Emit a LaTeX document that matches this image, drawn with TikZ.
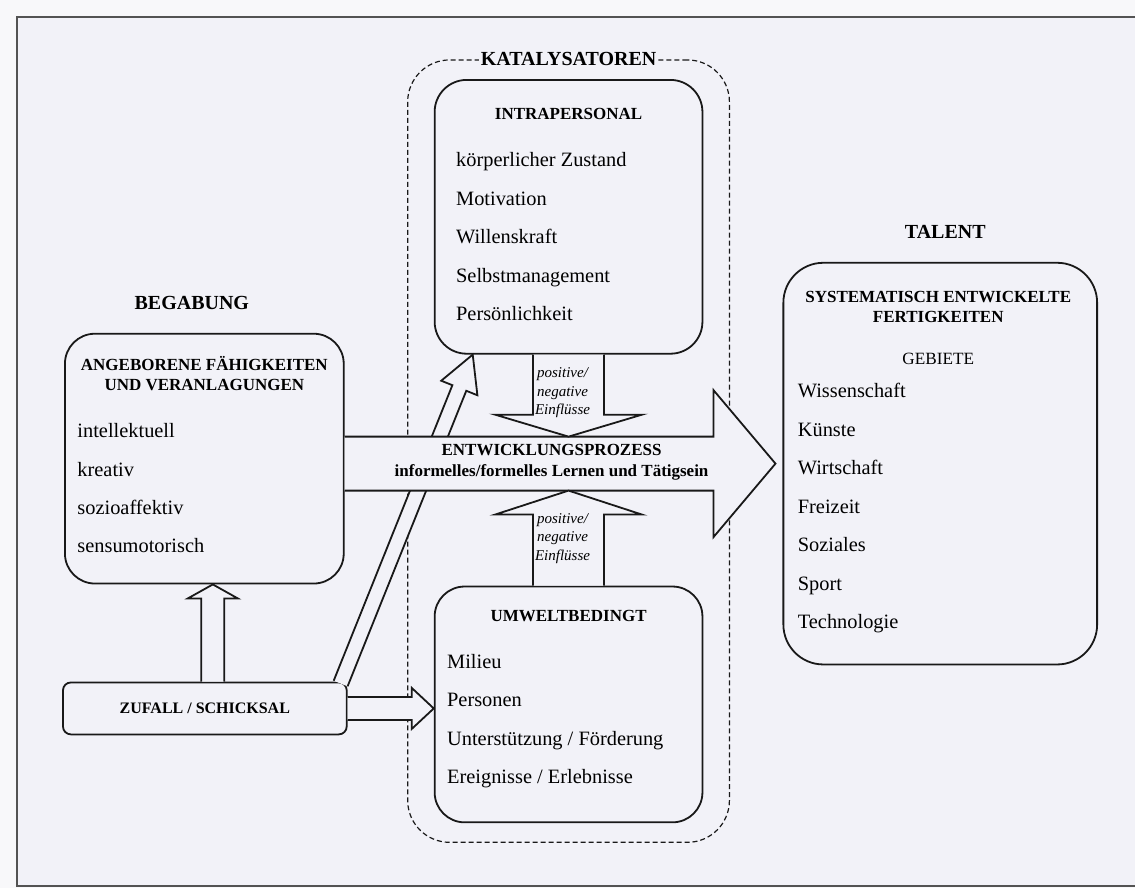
\documentclass[tikz,border=0pt]{standalone}
\usepackage{fontspec}
\setmainfont{Liberation Serif}
\usetikzlibrary{calc,positioning}
\definecolor{pagebg}{RGB}{248,248,250}
\definecolor{sheet}{RGB}{242,242,248}
\definecolor{ink}{RGB}{25,25,25}
% block arrow: tail, tip, half shaft, half head, head length
\newcommand{\barrow}[5]{%
  \coordinate (hb) at ($(#2)!#5!(#1)$);
  \draw[flow] ($(#1)!#3!90:(#2)$) -- ($(hb)!#3!90:(#2)$) -- ($(hb)!#4!90:(#2)$) -- (#2)
    -- ($(hb)!#4!-90:(#2)$) -- ($(hb)!#3!-90:(#2)$) -- ($(#1)!#3!-90:(#2)$);}

\begin{document}
\begin{tikzpicture}[x=0.5pt, y=0.5pt,
  box/.style={draw=ink, line width=0.9pt, fill=sheet, rounded corners=16pt},
  flow/.style={draw=ink, line width=0.9pt, fill=sheet, line join=miter},
  title/.style={font=\fontsize{10}{12}\selectfont\bfseries, inner sep=1pt},
  head/.style={font=\fontsize{8.5}{10}\selectfont\bfseries, align=center, inner sep=0pt},
  item/.style={font=\fontsize{10.2}{12}\selectfont, anchor=base west, inner sep=0pt},
  influence/.style={font=\fontsize{7.5}{9.25}\selectfont\itshape, align=center, inner sep=0pt}]
  % page
  \fill[pagebg] (0,0) rectangle (1136,889);
  \fill[sheet] (17,2) rectangle (1136,872);
  \draw[ink!75, line width=0.9pt] (1136,872) -- (17,872) -- (17,2) -- (1136,2);
  \useasboundingbox (0,0) rectangle (1136,889);

  % catalysts
  \node[draw=ink, dash pattern=on 2.5pt off 1.5pt, line width=0.6pt, rounded corners=21pt,
    minimum width=161pt, minimum height=391.5pt] (kat) at (569,437.5) {};
  \node[title, fill=sheet] (kat-t) at (kat.north) {KATALYSATOREN};

  % boxes
  \node[box, minimum width=134pt, minimum height=137pt] (intra) at (569,672) {};
  \node[box, rounded corners=15pt, minimum width=134pt, minimum height=118pt] (umwelt) at (569,184) {};
  \node[box, rounded corners=15pt, minimum width=139.5pt, minimum height=125pt] (begabung) at (204.5,430) {};
  \node[box, rounded corners=20pt, minimum width=157pt, minimum height=201pt] (talent) at (941,425) {};
  \node[box, rounded corners=4pt, minimum width=142pt, minimum height=26pt,
    font=\fontsize{8}{10}\selectfont\bfseries] (zufall) at (205,180) {ZUFALL / SCHICKSAL};

  \node[title] (begabung-t) at (192,586) {BEGABUNG};
  \node[title] (talent-t) at (946,657) {TALENT};

  % arrows
  \coordinate (diag-s) at ($(zufall.north east)+(-7,-2)$);
  \coordinate (diag-e) at ($(intra.south west)+(39,0)$);
  \barrow{diag-s}{diag-e}{3.75pt}{9.75pt}{18pt}
  \coordinate (main-s) at (begabung.east |- talent.west);
  \coordinate (main-e) at ($(talent.west)+(-7,0)$);
  \barrow{main-s}{main-e}{13.5pt}{36.75pt}{31pt}
  \coordinate (inf-o) at ($(intra.south |- talent.west)+(0,27)$);
  \barrow{intra.south}{inf-o}{17.75pt}{36.75pt}{11pt}
  \coordinate (inf-u) at ($(umwelt.north |- talent.west)+(0,-27)$);
  \barrow{umwelt.north}{inf-u}{17.75pt}{36.75pt}{12pt}
  \coordinate (zu-s) at ($(zufall.north)+(8,0)$);
  \coordinate (zu-e) at (zu-s |- begabung.south);
  \barrow{zu-s}{zu-e}{5.75pt}{12.5pt}{7pt}
  \coordinate (zr-e) at (umwelt.west |- zufall.east);
  \barrow{zufall.east}{zr-e}{5.75pt}{10.25pt}{11pt}

  % texts
  \node[head] (intra-h) at ($(intra.north)+(0,-35)$) {INTRAPERSONAL};
  \foreach \lbl [count=\i from 0] in {körperlicher Zustand, Motivation, Willenskraft, Selbstmanagement, Persönlichkeit}
    \node[item] (intra-\i) at ($(intra.north west)+(22,-88-38.5*\i)$) {\lbl};
  \node[head] (umwelt-h) at ($(umwelt.north)+(0,-30)$) {UMWELTBEDINGT};
  \foreach \lbl [count=\i from 0] in {Milieu, Personen, Unterstützung / Förderung, Ereignisse / Erlebnisse}
    \node[item] (umwelt-\i) at ($(umwelt.north west)+(13,-83-38.3*\i)$) {\lbl};
  \node[head] (begabung-h) at ($(begabung.north)+(0,-41)$) {ANGEBORENE FÄHIGKEITEN\\UND VERANLAGUNGEN};
  \foreach \lbl [count=\i from 0] in {intellektuell, kreativ, sozioaffektiv, sensumotorisch}
    \node[item] (begabung-\i) at ($(begabung.north west)+(13,-105-38.3*\i)$) {\lbl};
  \node[head] (talent-h) at ($(talent.north)+(-2,-45)$) {SYSTEMATISCH ENTWICKELTE\\FERTIGKEITEN};
  \node[font=\fontsize{8.6}{10}\selectfont, inner sep=0pt] (gebiete) at ($(talent.north)+(-2,-97)$) {GEBIETE};
  \foreach \lbl [count=\i from 0] in {Wissenschaft, Künste, Wirtschaft, Freizeit, Soziales, Sport, Technologie}
    \node[item] (talent-\i) at ($(talent.north west)+(15,-136-38.5*\i)$) {\lbl};

  \node[head, font=\fontsize{8.5}{10.5}\selectfont\bfseries] (prozess) at (552,426)
    {ENTWICKLUNGSPROZESS\\informelles/formelles Lernen und Tätigsein};
  \node[influence] (einfl-o) at (563,496) {positive/\\negative\\Einflüsse};
  \node[influence] (einfl-u) at (563,350) {positive/\\negative\\Einflüsse};
\end{tikzpicture}
\end{document}
